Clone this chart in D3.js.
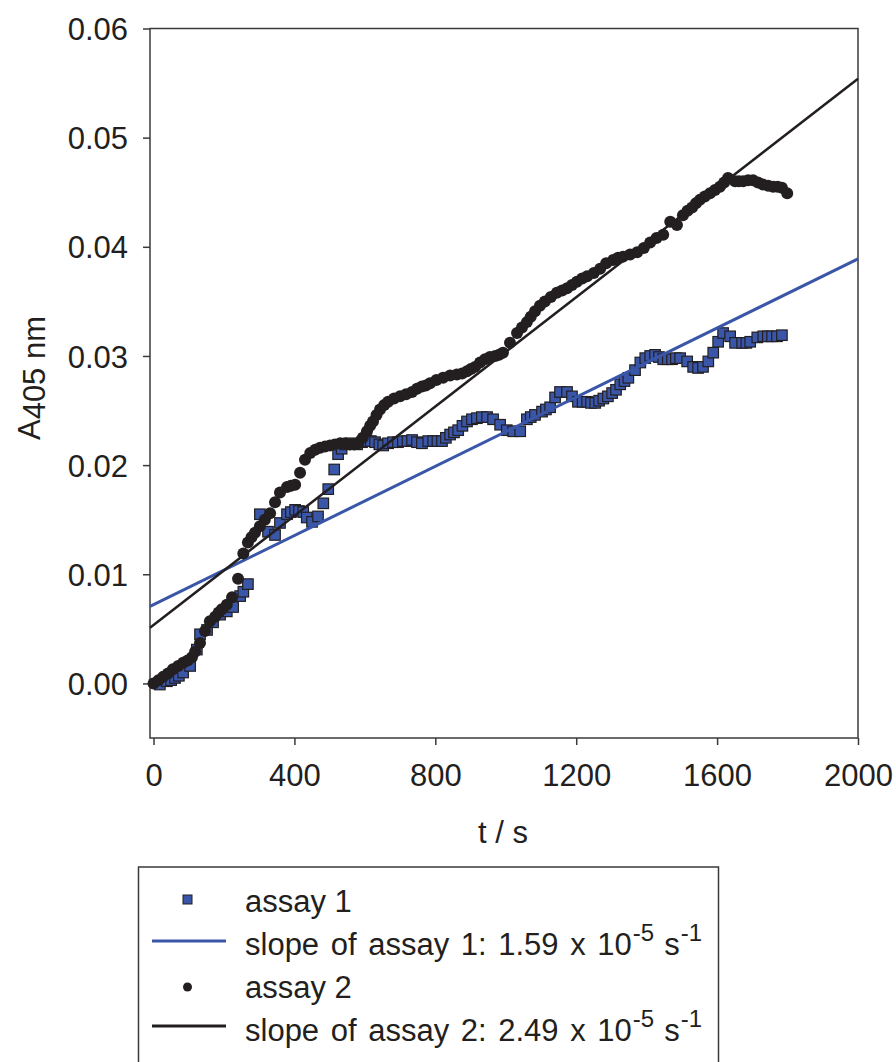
<!DOCTYPE html>
<html><head><meta charset="utf-8">
<script src="https://cdn.jsdelivr.net/npm/d3@7"></script>
<style>
html,body{margin:0;padding:0;background:#fff;}
svg text{font-family:"Liberation Sans",Arial,sans-serif;fill:#231f20;}
</style></head>
<body>
<svg id="c" width="896" height="1062"></svg>
<script>
// ---- data ----
const t1 = [18,38,50,61,72,84,104,123,132,152,169,189,208,226,246,255,268,302,325,345,359,379,390,402,413,425,435,450,467,482,496,513,524,534,544,561,578,592,606,617,629,641,652,666,680,694,708,721,734,748,762,780,794,806,819,830,842,853,865,877,890,904,918,932,947,964,984,1003,1021,1041,1060,1071,1083,1103,1114,1126,1140,1154,1174,1188,1205,1218,1231,1242,1254,1265,1277,1290,1302,1313,1325,1337,1348,1367,1382,1396,1410,1424,1435,1447,1460,1472,1483,1495,1515,1532,1546,1560,1575,1589,1603,1617,1637,1651,1671,1683,1694,1714,1731,1744,1756,1770,1784];
const a1 = [-0.0001,0.0002,0.0003,0.0005,0.0007,0.0010,0.0016,0.0031,0.0045,0.0049,0.0056,0.0063,0.0066,0.0070,0.0080,0.0084,0.0091,0.0155,0.0139,0.0136,0.0147,0.0155,0.0157,0.0159,0.0158,0.0157,0.0152,0.0148,0.0153,0.0165,0.0178,0.0196,0.0210,0.0215,0.0219,0.0220,0.0219,0.0221,0.0222,0.0222,0.0221,0.0219,0.0218,0.0220,0.0221,0.0221,0.0222,0.0222,0.0223,0.0221,0.0220,0.0222,0.0222,0.0222,0.0222,0.0225,0.0228,0.0230,0.0232,0.0236,0.0240,0.0242,0.0243,0.0244,0.0244,0.0242,0.0237,0.0232,0.0231,0.0231,0.0242,0.0244,0.0246,0.0249,0.0251,0.0253,0.0262,0.0267,0.0267,0.0263,0.0258,0.0258,0.0258,0.0257,0.0257,0.0259,0.0261,0.0263,0.0266,0.0269,0.0274,0.0277,0.0280,0.0287,0.0294,0.0298,0.0300,0.0301,0.0299,0.0297,0.0297,0.0297,0.0298,0.0298,0.0295,0.0290,0.0289,0.0290,0.0295,0.0303,0.0313,0.0321,0.0318,0.0312,0.0312,0.0312,0.0313,0.0317,0.0318,0.0318,0.0318,0.0318,0.0319];
const t2 = [0,14,27,41,55,70,84,97,109,118,132,146,160,175,185,194,208,223,240,255,268,278,288,302,316,331,345,359,379,390,402,416,430,445,459,473,487,501,515,530,544,558,570,581,594,606,615,623,633,643,655,666,683,700,717,734,748,762,773,785,803,822,842,861,876,890,901,913,927,941,955,970,981,992,1012,1032,1046,1060,1071,1083,1097,1111,1128,1145,1160,1174,1188,1202,1217,1231,1250,1268,1285,1305,1319,1333,1353,1373,1392,1410,1428,1447,1467,1486,1503,1516,1529,1540,1551,1565,1580,1594,1608,1620,1631,1651,1662,1674,1688,1702,1716,1730,1745,1759,1772,1784,1799];
const a2 = [0.0000,0.0003,0.0006,0.0009,0.0013,0.0016,0.0019,0.0021,0.0024,0.0029,0.0037,0.0048,0.0057,0.0061,0.0065,0.0068,0.0072,0.0079,0.0096,0.0119,0.0129,0.0134,0.0138,0.0144,0.0150,0.0156,0.0166,0.0175,0.0180,0.0181,0.0182,0.0193,0.0205,0.0211,0.0214,0.0216,0.0217,0.0218,0.0219,0.0220,0.0220,0.0219,0.0219,0.0220,0.0225,0.0231,0.0236,0.0240,0.0246,0.0251,0.0255,0.0258,0.0261,0.0263,0.0265,0.0267,0.0270,0.0272,0.0273,0.0275,0.0278,0.0280,0.0282,0.0283,0.0284,0.0286,0.0288,0.0290,0.0294,0.0297,0.0299,0.0300,0.0301,0.0303,0.0312,0.0321,0.0326,0.0331,0.0336,0.0341,0.0346,0.0350,0.0354,0.0358,0.0360,0.0362,0.0365,0.0368,0.0371,0.0373,0.0376,0.0380,0.0385,0.0388,0.0390,0.0391,0.0393,0.0395,0.0399,0.0404,0.0408,0.0411,0.0423,0.0420,0.0429,0.0433,0.0436,0.0440,0.0443,0.0446,0.0449,0.0452,0.0455,0.0459,0.0463,0.0460,0.0460,0.0460,0.0461,0.0461,0.0459,0.0457,0.0456,0.0455,0.0455,0.0454,0.0449];
const fitT = [-10, 2000];
const fit1 = [0.00705, 0.0389];
const fit2 = [0.0051, 0.0554];
const xTicks = [0,400,800,1200,1600,2000];
const yTicks = [0,0.01,0.02,0.03,0.04,0.05,0.06];
const legendLabels = ["assay 1","slope of assay 1: 1.59 x 10","assay 2","slope of assay 2: 2.49 x 10"];

// ---- drawing ----
const svg = d3.select("#c");
const x = d3.scaleLinear().domain([-10,2000]).range([150,858]);
const y = d3.scaleLinear().domain([-0.005,0.06]).range([738,28.5]);
const BLUE = "#3a56a8", DARK = "#231f20", AX = "#3a3a3a";
const FS = 31;

// axes
const xa = svg.append("g").attr("transform","translate(0,738)")
  .call(d3.axisBottom(x).tickValues(xTicks).tickFormat(d3.format("d")).tickSize(7).tickPadding(19));
const ya = svg.append("g").attr("transform","translate(150,0)")
  .call(d3.axisLeft(y).tickValues(yTicks).tickFormat(d3.format(".2f")).tickSize(7).tickPadding(15));
[xa,ya].forEach(g=>{
  g.select(".domain").remove();
  g.selectAll(".tick line").attr("stroke",AX).attr("stroke-width",1.5);
  g.selectAll(".tick text").attr("font-size",FS).attr("font-family","Liberation Sans, Arial, sans-serif").attr("fill",DARK);
});
ya.selectAll(".tick text").attr("dy","0.36em");
// frame
svg.append("rect").attr("x",x(-10)).attr("y",y(0.06)).attr("width",x(2000)-x(-10)).attr("height",y(-0.005)-y(0.06))
  .attr("fill","none").attr("stroke",AX).attr("stroke-width",1.5);

const plot = svg.append("g");
const d1 = t1.map((t,i)=>[t,a1[i]]);
const d2 = t2.map((t,i)=>[t,a2[i]]);
const S = 10.5;
plot.selectAll("rect.s1").data(d1).join("rect").attr("class","s1")
  .attr("x",d=>x(d[0])-S/2).attr("y",d=>y(d[1])-S/2).attr("width",S).attr("height",S)
  .attr("fill",BLUE).attr("stroke",DARK).attr("stroke-width",1.2);
const line = d3.line().x(d=>x(d[0])).y(d=>y(d[1]));
plot.append("path").datum(fitT.map((t,i)=>[t,fit1[i]])).attr("d",line)
  .attr("stroke",BLUE).attr("stroke-width",3).attr("fill","none");
plot.selectAll("circle.s2").data(d2).join("circle").attr("class","s2")
  .attr("cx",d=>x(d[0])).attr("cy",d=>y(d[1])).attr("r",6).attr("fill",DARK);
plot.append("path").datum(fitT.map((t,i)=>[t,fit2[i]])).attr("d",line)
  .attr("stroke",DARK).attr("stroke-width",2.5).attr("fill","none");

// axis titles
svg.append("text").attr("x",503).attr("y",843).attr("text-anchor","middle").attr("font-size",FS).text("t / s");
const yl = svg.append("text").attr("transform","translate(40,378) rotate(-90)").attr("text-anchor","middle").attr("font-size",FS);
yl.append("tspan").text("A");
yl.append("tspan").attr("dy",5).text("405 nm");

// legend
const lg = svg.append("g");
lg.append("rect").attr("x",138.5).attr("y",867).attr("width",580).attr("height",220)
  .attr("fill","none").attr("stroke",AX).attr("stroke-width",1.5);
const rowY = [912,955,998,1041];
lg.append("rect").attr("x",183).attr("y",895).attr("width",9).attr("height",9).attr("fill",BLUE).attr("stroke",DARK).attr("stroke-width",1);
lg.append("line").attr("x1",152).attr("x2",226).attr("y1",941).attr("y2",941).attr("stroke",BLUE).attr("stroke-width",3);
lg.append("circle").attr("cx",187.5).attr("cy",987).attr("r",4.5).attr("fill",DARK);
lg.append("line").attr("x1",152).attr("x2",226).attr("y1",1026).attr("y2",1026).attr("stroke",DARK).attr("stroke-width",3);
legendLabels.forEach((lab,i)=>{
  const tx = lg.append("text").attr("x",245).attr("y",rowY[i]).attr("font-size",FS);
  tx.append("tspan").attr("word-spacing", i%2===1 ? 3 : 0).text(lab);
  if(i%2===1){
    tx.append("tspan").attr("font-size",24).attr("dx",1).attr("dy",-14).text("-5");
    tx.append("tspan").attr("font-size",FS).attr("dx",10).attr("dy",14).text("s");
    tx.append("tspan").attr("font-size",24).attr("dx",1).attr("dy",-14).text("-1");
  }
});
</script>
</body></html>
